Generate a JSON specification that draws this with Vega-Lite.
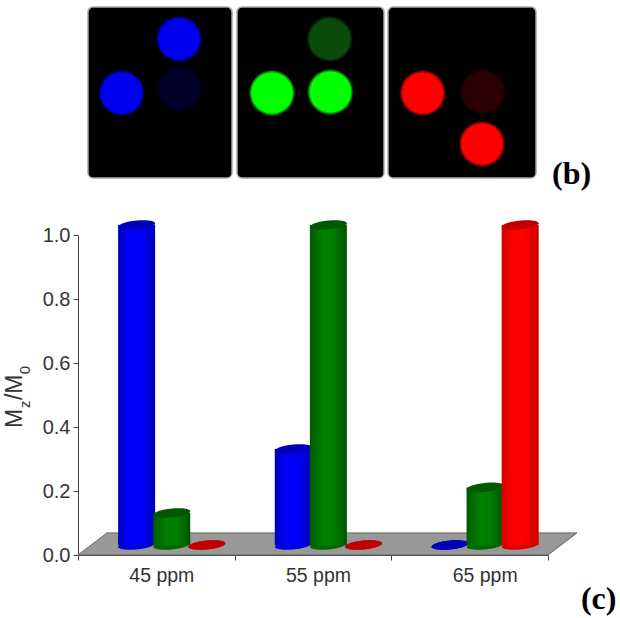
{
"$schema":"https://vega.github.io/schema/vega-lite/v6.json",
"background":"white",
"padding":{"left":4,"top":0,"right":0,"bottom":0},
"spacing":45,
"bounds":"flush",
"config":{"view":{"stroke":null}},
"datasets":{
"bars":[
{"ppm":"45 ppm","series":"blue","value":1.0},{"ppm":"45 ppm","series":"green","value":0.10},{"ppm":"45 ppm","series":"red","value":0},
{"ppm":"55 ppm","series":"blue","value":0.30},{"ppm":"55 ppm","series":"green","value":1.0},{"ppm":"55 ppm","series":"red","value":0},
{"ppm":"65 ppm","series":"blue","value":0},{"ppm":"65 ppm","series":"green","value":0.18},{"ppm":"65 ppm","series":"red","value":1.0}],
"floor":[{"fx":0,"ftop":0,"fbot":0},{"fx":0.185,"ftop":0.069,"fbot":0},{"fx":3,"ftop":0.069,"fbot":0},{"fx":3.185,"ftop":0.069,"fbot":0.069}],
"panels":[{"x0":10,"x1":154,"y0":7,"y1":178},{"x0":159,"x1":306,"y0":7,"y1":178},{"x0":310,"x1":458,"y0":7,"y1":178}],
"spots":[
{"col":101,"row":39,"spot":"blue"},{"col":43.6,"row":93,"spot":"blue"},{"col":101.5,"row":89,"spot":"faint blue"},
{"col":251.7,"row":39,"spot":"faint green"},{"col":194,"row":93,"spot":"green"},{"col":252.4,"row":92,"spot":"green"},
{"col":344.7,"row":93,"spot":"red"},{"col":405,"row":92,"spot":"faint red"},{"col":404,"row":144,"spot":"red"}]
},
"vconcat":[
{
"width":470,"height":190,
"encoding":{},
"layer":[
{"data":{"name":"panels"},"mark":{"type":"rect","fill":"black","stroke":"#a8a8a8","strokeWidth":1.5,"cornerRadius":5},
"encoding":{"x":{"field":"x0","type":"quantitative","axis":null,"scale":{"domain":[0,470],"nice":false}},"x2":{"field":"x1"},"y":{"field":"y0","type":"quantitative","axis":null,"scale":{"domain":[190,0],"nice":false}},"y2":{"field":"y1"}}},
{"data":{"name":"spots"},"mark":{"type":"point","filled":true,"size":2116,"opacity":0.2,"shape":"circle"},
"encoding":{"x":{"field":"col","type":"quantitative","scale":{"domain":[0,470],"nice":false}},"y":{"field":"row","type":"quantitative","scale":{"domain":[190,0],"nice":false}},
"color":{"field":"spot","type":"nominal","legend":null,"scale":{"domain":["blue","faint blue","green","faint green","red","faint red"],"range":["#0000f0","#00002a","#00ff00","#0a4a0a","#ff0000","#2a0004"]}}}},
{"data":{"name":"spots"},"mark":{"type":"point","filled":true,"size":1936,"opacity":0.55,"shape":"circle"},
"encoding":{"x":{"field":"col","type":"quantitative","scale":{"domain":[0,470],"nice":false}},"y":{"field":"row","type":"quantitative","scale":{"domain":[190,0],"nice":false}},
"color":{"field":"spot","type":"nominal","legend":null}}},
{"data":{"name":"spots"},"mark":{"type":"point","filled":true,"size":1700,"opacity":1,"shape":"circle"},
"encoding":{"x":{"field":"col","type":"quantitative","scale":{"domain":[0,470],"nice":false}},"y":{"field":"row","type":"quantitative","scale":{"domain":[190,0],"nice":false}},
"color":{"field":"spot","type":"nominal","legend":null}}},
{"data":{"values":[{"col":474,"row":184,"t":"(b)"}]},"mark":{"type":"text","font":"Liberation Serif","fontWeight":"bold","fontSize":32,"align":"left","baseline":"alphabetic","color":"black"},
"encoding":{"x":{"field":"col","type":"quantitative","scale":{"domain":[0,470],"nice":false}},"y":{"field":"row","type":"quantitative","scale":{"domain":[190,0],"nice":false}},"text":{"field":"t"}}}
]
},
{
"width":470,"height":320,
"resolve":{"scale":{"x":"independent"}},
"layer":[
{"layer":[
{"data":{"name":"floor"},"mark":{"type":"area","color":"#989898","stroke":"#666666","strokeWidth":1,"orient":"vertical"},
"encoding":{"x":{"field":"fx","type":"quantitative","axis":null,"scale":{"domain":[0,3]}},
"y":{"field":"ftop","type":"quantitative","title":null,"scale":{"domain":[0,1]},
"axis":{"values":[0,0.1,0.2,0.3,0.4,0.5,0.6,0.7,0.8,0.9,1.0],"labelExpr":"round(datum.value*10)%2==0?format(datum.value,'.1f'):''","grid":false,"title":null,"domainColor":"#444444","tickColor":"#444444","labelColor":"#333333","labelFont":"Liberation Sans","labelFontSize":20,"labelPadding":3,"tickSize":{"condition":{"test":"round(datum.value*10)%2==0","value":5},"value":3}}},
"y2":{"field":"fbot"}}},
{"data":{"values":[{"t":"M","px":-0.357,"py":0.397},{"t":"/M","px":-0.357,"py":0.484}]},"mark":{"type":"text","font":"Liberation Sans","fontSize":23,"angle":270,"align":"left","baseline":"alphabetic","color":"#333333"},
"encoding":{"x":{"field":"px","type":"quantitative"},"y":{"field":"py","type":"quantitative"},"text":{"field":"t"}}},
{"data":{"values":[{"t":"z","px":-0.306,"py":0.459},{"t":"0","px":-0.306,"py":0.565}]},"mark":{"type":"text","font":"Liberation Sans","fontSize":15,"angle":270,"align":"left","baseline":"alphabetic","color":"#333333"},
"encoding":{"x":{"field":"px","type":"quantitative"},"y":{"field":"py","type":"quantitative"},"text":{"field":"t"}}},
{"data":{"values":[{"t":"(c)","px":3.21,"py":-0.169}]},"mark":{"type":"text","font":"Liberation Serif","fontWeight":"bold","fontSize":32,"align":"left","baseline":"alphabetic","color":"black"},
"encoding":{"x":{"field":"px","type":"quantitative"},"y":{"field":"py","type":"quantitative"},"text":{"field":"t"}}}
]},
{"data":{"name":"bars"},
"encoding":{
"x":{"field":"ppm","type":"nominal","title":null,"scale":{"paddingInner":0,"paddingOuter":0},
"axis":{"orient":"bottom","tickBand":"extent","labelAngle":0,"domainColor":"#444444","tickColor":"#444444","labelColor":"#333333","labelFont":"Liberation Sans","labelFontSize":19.5,"tickSize":5,"labelPadding":6,"labelOffset":{"condition":{"test":"datum.value=='65 ppm'","value":15},"value":5},"grid":false,"title":null}},
"xOffset":{"field":"series","type":"nominal","sort":["blue","green","red"],"scale":{"domain":["blue","green","red"],"paddingInner":0,"paddingOuter":0.73,"align":0.8}},
"y":{"field":"value","type":"quantitative"}},
"layer":[
{"transform":[{"filter":"datum.series=='blue'"}],"layer":[
{"mark":{"type":"point","filled":true,"opacity":1,"size":1369,"yOffset":-10,"color":"#0000d8","shape":"M-1,0.1A1,0.24,-6,1,1,1,-0.1A1,0.24,-6,1,1,-1,0.1Z"},"encoding":{"y":{"datum":0}}},
{"mark":{"type":"bar","size":37,"yOffset":-10,"y2Offset":-10,"color":{"gradient":"linear","x1":0,"x2":1,"y1":0,"y2":0,"stops":[{"offset":0,"color":"#0000c0"},{"offset":0.35,"color":"#0000ff"},{"offset":0.65,"color":"#0000f8"},{"offset":1,"color":"#0000b8"}]}}},
{"mark":{"type":"point","filled":true,"opacity":1,"size":1369,"yOffset":-10,"color":"#0000b8","shape":"M-1,0.1A1,0.24,-6,1,1,1,-0.1A1,0.24,-6,1,1,-1,0.1Z"}}
]},
{"transform":[{"filter":"datum.series=='green'"}],"layer":[
{"mark":{"type":"point","filled":true,"opacity":1,"size":1369,"yOffset":-10,"color":"#006a00","shape":"M-1,0.1A1,0.24,-6,1,1,1,-0.1A1,0.24,-6,1,1,-1,0.1Z"},"encoding":{"y":{"datum":0}}},
{"mark":{"type":"bar","size":37,"yOffset":-10,"y2Offset":-10,"color":{"gradient":"linear","x1":0,"x2":1,"y1":0,"y2":0,"stops":[{"offset":0,"color":"#005800"},{"offset":0.35,"color":"#008000"},{"offset":0.65,"color":"#007c00"},{"offset":1,"color":"#005400"}]}}},
{"mark":{"type":"point","filled":true,"opacity":1,"size":1369,"yOffset":-10,"color":"#005800","shape":"M-1,0.1A1,0.24,-6,1,1,1,-0.1A1,0.24,-6,1,1,-1,0.1Z"}}
]},
{"transform":[{"filter":"datum.series=='red'"}],"layer":[
{"mark":{"type":"point","filled":true,"opacity":1,"size":1369,"yOffset":-10,"color":"#d80000","shape":"M-1,0.1A1,0.24,-6,1,1,1,-0.1A1,0.24,-6,1,1,-1,0.1Z"},"encoding":{"y":{"datum":0}}},
{"mark":{"type":"bar","size":37,"yOffset":-10,"y2Offset":-10,"color":{"gradient":"linear","x1":0,"x2":1,"y1":0,"y2":0,"stops":[{"offset":0,"color":"#d80000"},{"offset":0.35,"color":"#ff0000"},{"offset":0.65,"color":"#fc0000"},{"offset":1,"color":"#cc0000"}]}}},
{"mark":{"type":"point","filled":true,"opacity":1,"size":1369,"yOffset":-10,"color":"#c00000","shape":"M-1,0.1A1,0.24,-6,1,1,1,-0.1A1,0.24,-6,1,1,-1,0.1Z"}}
]}
]}
]
}
]
}
